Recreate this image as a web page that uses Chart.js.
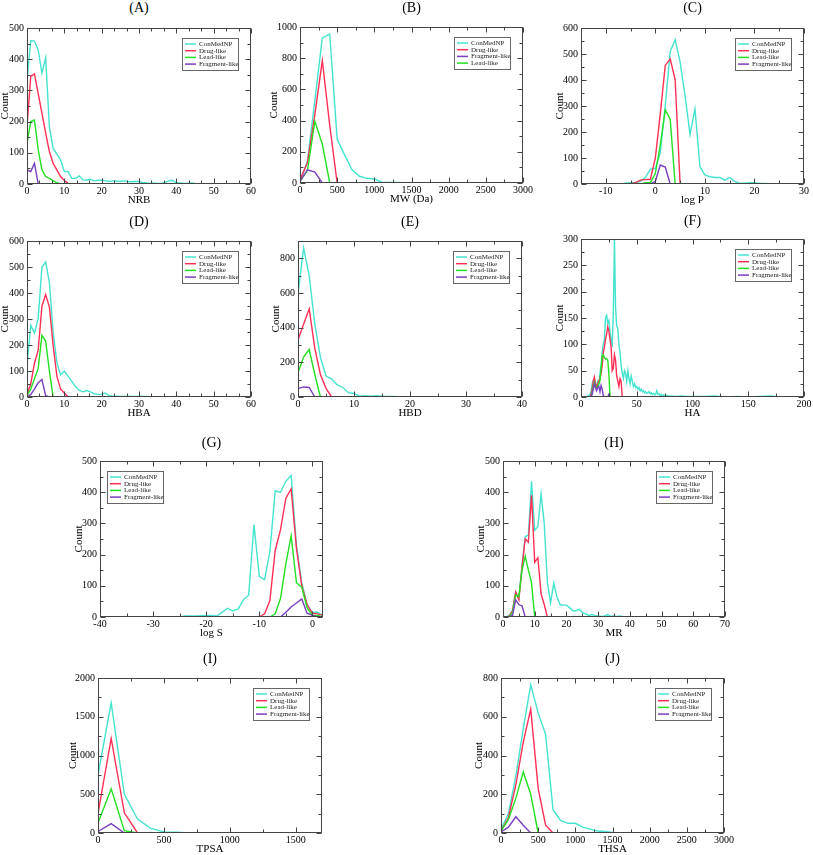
<!DOCTYPE html>
<html lang="en">
<head>
<meta charset="UTF-8">
<title>ConMedNP property distributions</title>
<script src="https://cdn.jsdelivr.net/npm/chart.js"></script>
<style>
  body { margin: 0; background: #fff; width: 813px; height: 855px; position: relative; overflow: hidden; font-family: "Liberation Serif", serif; }
  canvas { position: absolute; }
  .ptitle { position: absolute; font-size: 14px; color: #000; transform: translate(-50%, -50%); white-space: nowrap; }
</style>
</head>
<body>
<script>
// bin positions
function range(a, b, s) { const r = []; for (let v = a; v <= b + 1e-9; v += s) r.push(v); return r; }

const seriesNames = ['ConMedNP', 'Drug-like', 'Lead-like', 'Fragment-like'];
const seriesColors = ['#44e3cf', '#ff2f55', '#22e022', '#7a3fc0'];

// (A) NRB
const aX = range(0, 45, 1);
const aConMed = [330,460,458,430,355,405,182,115,96,77,40,40,18,18,26,13,12,15,10,12,12,10,8,10,9,8,10,8,7,8,8,5,3,2,3,2,2,5,10,12,4,3,2,2,3,2];
const aDrug = [184,345,353,290,227,163,104,66,45,24,11,2,0,0,0,0,0,0,0,0,0,0];
const aLead = [130,200,205,110,45,24,18,11,4,0,0];
const aFrag = [45,40,66,0];
const aTicksX = [0,10,20,30,40,50,60];
const aTicksY = [0,100,200,300,400,500];

// (B) MW (Da)
const bX = range(0, 2400, 100);
const bConMed = [15,140,530,930,955,280,180,85,43,30,26,5,3,3,2,2,1,1,0,0,1,0,0,1,0];
const bDrug = [20,130,440,785,370,0,0];
const bLead = [10,80,395,250,0,0];
const bFrag = [10,85,70,0,0];
const bTicksX = [0,500,1000,1500,2000,2500,3000];
const bTicksY = [0,200,400,600,800,1000];

// (C) log P
const cX = range(-15, 25, 1);
const cConMed = [0,0,0,0,0,0,0,0,0,3,5,5,10,25,57,60,120,300,510,555,470,340,190,288,67,35,28,25,25,15,25,10,3,3,5,5,2,2,1,1,0];
const cDrug = [0,5,15,17,18,100,270,456,481,401,0,0];          // from -5
const cLead = [0,0,0,0,0,0,0,5,5,40,150,285,249,0];              // from -9
const cFrag = [0,10,73,65,0];                                    // from -1
const cTicksX = [-10,0,10,20,30];
const cTicksY = [0,100,200,300,400,500,600];

// (D) HBA
const dX = range(0, 45, 1);
const dConMed = [120,276,246,301,500,519,440,250,132,85,100,80,60,40,25,20,25,20,12,10,10,15,5,3,3,2,2,3,2,2,3,2,2,1,1,1,1,1,1,1,2,1,0,0,0,0];
const dDrug = [10,50,130,180,349,394,346,199,80,30,15,0];
const dLead = [5,30,70,110,237,215,100,0];
const dFrag = [0,10,30,55,67,5,0];
const dTicksX = [0,10,20,30,40,50,60];
const dTicksY = [0,100,200,300,400,500,600];

// (E) HBD
const eX = range(0, 30, 1);
const eConMed = [595,860,700,422,230,121,105,70,55,25,20,5,8,5,8,5,3,3,2,2,1,1,1,1,1,1,1,2,0,0,0];
const eDrug = [330,420,509,280,130,50,0];
const eLead = [140,230,274,130,0];
const eFrag = [48,58,55,0];
const eTicksX = [0,10,20,30,40];
const eTicksY = [0,200,400,600,800];

// (F) HA
const fX = range(0, 80, 1).concat([85,90,95,100,110,120,130,140,150,160,170,180]);
const fConMed = [0,0,0,0,0,0,2,3,5,10,25,32,28,20,22,30,25,45,60,85,100,110,150,155,140,145,125,110,95,160,300,170,135,130,100,85,60,45,35,50,45,30,50,35,25,40,30,20,25,18,20,15,18,12,15,10,12,8,10,7,8,10,6,8,5,7,4,5,12,5,6,3,5,2,4,3,2,3,2,1,2,1,2,1,1,1,2,0,1,0,1,2,0];
const fDrug = [0,5,15,30,38,25,18,25,30,35,45,60,85,95,110,120,133,125,110,95,50,55,80,70,40,30,20,35,30,0];   // from 8
const fLead = [0,8,20,28,20,15,20,25,30,55,78,80,75,72,73,70,45,0];                                            // from 9
const fFrag = [0,5,15,25,18,12,18,20,10,22,15,3,0,0,0,0,5,0];                                                  // from 9
const fTicksX = [0,50,100,150,200];
const fTicksY = [0,50,100,150,200,250,300];

// (G) log S
const gX = range(-40, 2, 1);
const gConMed = [0,0,0,0,0,0,0,0,0,0,0,0,0,0,0,0,3,3,3,4,5,5,3,15,28,20,25,55,70,296,130,120,210,404,400,435,454,230,110,40,15,15,5];
const gDrug = [0,10,53,214,280,380,411,220,100,40,12,10,5];      // from -10
const gLead = [0,10,60,170,260,110,95,30,5,5,0];                 // from -8
const gFrag = [0,15,32,45,58,12,5,0];                            // from -6
const gTicksX = [-40,-30,-20,-10,0];
const gTicksY = [0,100,200,300,400,500];

// (H) MR
const hX = range(0, 40, 1);
const hConMed = [0,0,5,20,80,60,165,258,262,435,278,290,395,300,110,45,108,65,40,38,38,30,20,20,25,15,10,5,8,5,3,2,3,8,2,3,2,3,1,1,0];
const hDrug = [0,0,3,20,80,55,160,250,240,390,175,190,75,40,0];
const hLead = [0,0,0,15,70,65,150,195,150,110,0];
const hFrag = [0,0,0,5,55,40,35,0];
const hTicksX = [0,10,20,30,40,50,60,70];
const hTicksY = [0,100,200,300,400,500];

// (I) TPSA
const iX = range(0, 700, 100);
const iConMed = [750,1680,500,180,60,15,10,0];
const iDrug = [250,1220,260,0,0];
const iLead = [130,570,30,0];
const iFrag = [20,120,0];
const iTicksX = [0,500,1000,1500];
const iTicksY = [0,500,1000,1500,2000];

// (J) THSA
const jX = range(0, 1700, 100);
const jConMed = [20,100,295,540,765,620,509,120,65,50,50,30,20,10,8,3,2,0];
const jDrug = [10,80,250,470,639,230,40,0];
const jLead = [10,70,180,315,200,0];
const jFrag = [5,30,84,40,0];
const jTicksX = [0,500,1000,1500,2000,2500,3000];
const jTicksY = [0,200,400,600,800];

// legend box drawn inside the plot, xmgrace style
const boxLegend = {
  id: 'boxLegend',
  afterDatasetsDraw(chart, args, o) {
    const {ctx, chartArea: a} = chart;
    const w = 56, h = 32, rowH = 6.7;
    const x0 = Math.round(o.side === 'left' ? a.left + 7 : a.right - 13 - w);
    const y0 = Math.round(a.top + 10);
    ctx.save();
    ctx.fillStyle = '#fff';
    ctx.fillRect(x0, y0, w, h);
    ctx.strokeStyle = '#666';
    ctx.lineWidth = 1;
    ctx.strokeRect(x0 + 0.5, y0 + 0.5, w, h);
    ctx.font = '7px "Liberation Serif"';
    ctx.textBaseline = 'middle';
    o.order.forEach((k, i) => {
      const yy = y0 + 6 + i * rowH;
      ctx.strokeStyle = seriesColors[k];
      ctx.lineWidth = 1.5;
      ctx.beginPath(); ctx.moveTo(x0 + 3, yy); ctx.lineTo(x0 + 14, yy); ctx.stroke();
      ctx.fillStyle = '#222';
      ctx.fillText(seriesNames[k], x0 + 17, yy);
    });
    ctx.restore();
  }
};

// frame on all four sides with inward major/minor ticks
const frameTicks = {
  id: 'frameTicks',
  afterDraw(chart, args, o) {
    const {ctx, chartArea: a, scales} = chart;
    ctx.save();
    ctx.strokeStyle = '#444';
    ctx.lineWidth = 1;
    const L = Math.round(a.left) + 0.5, R = Math.round(a.right) - 0.5;
    const T = Math.round(a.top) + 0.5, B = Math.round(a.bottom) - 0.5;
    ctx.strokeRect(L, T, R - L, B - T);
    const mark = (s, v, len) => {
      const p = Math.round(s.getPixelForValue(v)) + 0.5;
      ctx.beginPath();
      if (s.isHorizontal()) {
        ctx.moveTo(p, B); ctx.lineTo(p, B - len);
        ctx.moveTo(p, T); ctx.lineTo(p, T + len);
      } else {
        ctx.moveTo(L, p); ctx.lineTo(L + len, p);
        ctx.moveTo(R, p); ctx.lineTo(R - len, p);
      }
      ctx.stroke();
    };
    [[scales.x, o.xMinor], [scales.y, o.yMinor]].forEach(([s, n]) => {
      const vals = s.ticks.map(t => t.value);
      const step = (vals[1] - vals[0]) / (n + 1);
      let v = vals[0];
      while (v - step >= s.min - 1e-9) v -= step;
      for (; v <= s.max + 1e-9; v += step) {
        const major = vals.some(m => Math.abs(m - v) < step / 10);
        mark(s, v, major ? 5 : 3);
      }
    });
    ctx.restore();
  }
};

function makePanel(p) {
  const YW = 36, PT = 12, PR = 14, XH = 23;
  const [l, t, r, b] = p.rect;
  const W = YW + (r - l) + PR, H = PT + (b - t) + XH;
  const cv = document.createElement('canvas');
  cv.width = W; cv.height = H;
  cv.style.left = (l - YW) + 'px';
  cv.style.top = (t - PT) + 'px';
  cv.style.width = W + 'px';
  cv.style.height = H + 'px';
  document.body.appendChild(cv);

  const ttl = document.createElement('div');
  ttl.className = 'ptitle';
  ttl.textContent = p.title;
  ttl.style.left = ((l + r) / 2) + 'px';
  ttl.style.top = p.titleY + 'px';
  document.body.appendChild(ttl);

  const datasets = p.series.map(s => {
    const off = s.start === undefined ? 0 : s.xs.indexOf(s.start);
    return {
      label: seriesNames[s.k],
      data: s.ys.map((v, i) => ({x: s.xs[i + off], y: v})),
      borderColor: seriesColors[s.k],
      borderWidth: 1.4,
      pointRadius: 0,
      tension: 0,
      order: 4 - s.k
    };
  });

  const plain = v => String(v);

  new Chart(cv, {
    type: 'line',
    data: {datasets},
    plugins: [boxLegend, frameTicks],
    options: {
      responsive: false,
      animation: false,
      layout: {autoPadding: false, padding: {left: 0, top: PT, right: PR, bottom: 0}},
      plugins: {
        legend: {display: false},
        tooltip: {enabled: false},
        boxLegend: {side: p.legendSide || 'right', order: p.legendOrder || [0, 1, 2, 3]},
        frameTicks: {xMinor: p.xMinor || 1, yMinor: 1}
      },
      scales: {
        x: {
          type: 'linear', min: p.xRange[0], max: p.xRange[1],
          grid: {display: false, drawTicks: false}, border: {display: false},
          afterBuildTicks: s => { s.ticks = p.xTicks.map(v => ({value: v})); },
          afterFit: s => { s.height = XH; },
          ticks: {autoSkip: false, maxRotation: 0, padding: 1, color: '#000', callback: plain,
                  font: {family: 'Liberation Serif', size: 10}},
          title: {display: true, text: p.xLabel, color: '#000', padding: 0,
                  font: {family: 'Liberation Serif', size: 11}}
        },
        y: {
          type: 'linear', min: p.yRange[0], max: p.yRange[1],
          grid: {display: false, drawTicks: false}, border: {display: false},
          afterBuildTicks: s => { s.ticks = p.yTicks.map(v => ({value: v})); },
          afterFit: s => { s.width = YW; },
          ticks: {autoSkip: false, padding: 3, color: '#000', callback: plain,
                  font: {family: 'Liberation Serif', size: 10}},
          title: {display: true, text: 'Count', color: '#000',
                  padding: {top: YW - p.countGap - 6.6, bottom: 0},
                  font: {family: 'Liberation Serif', size: 11}}
        }
      }
    }
  });
}

makePanel({title: '(A)', titleY: 8, rect: [27, 28, 251, 184], countGap: 22, xMinor: 2,
  xRange: [0, 60], yRange: [0, 500], xTicks: aTicksX, yTicks: aTicksY, xLabel: 'NRB',
  series: [{xs: aX, ys: aConMed, k: 0}, {xs: aX, ys: aDrug, k: 1}, {xs: aX, ys: aLead, k: 2}, {xs: aX, ys: aFrag, k: 3}]});

makePanel({title: '(B)', titleY: 8, rect: [300, 27, 523, 183], countGap: 26, legendOrder: [0, 1, 3, 2],
  xRange: [0, 3000], yRange: [0, 1000], xTicks: bTicksX, yTicks: bTicksY, xLabel: 'MW (Da)',
  series: [{xs: bX, ys: bConMed, k: 0}, {xs: bX, ys: bDrug, k: 1}, {xs: bX, ys: bLead, k: 2}, {xs: bX, ys: bFrag, k: 3}]});

makePanel({title: '(C)', titleY: 8, rect: [581, 28, 804, 184], countGap: 21,
  xRange: [-15, 30], yRange: [0, 600], xTicks: cTicksX, yTicks: cTicksY, xLabel: 'log P',
  series: [{xs: cX, ys: cConMed, k: 0}, {xs: cX, ys: cDrug, k: 1, start: -5}, {xs: cX, ys: cLead, k: 2, start: -9}, {xs: cX, ys: cFrag, k: 3, start: -1}]});

makePanel({title: '(D)', titleY: 222, rect: [27, 241, 251, 397], countGap: 22, xMinor: 2,
  xRange: [0, 60], yRange: [0, 600], xTicks: dTicksX, yTicks: dTicksY, xLabel: 'HBA',
  series: [{xs: dX, ys: dConMed, k: 0}, {xs: dX, ys: dDrug, k: 1}, {xs: dX, ys: dLead, k: 2}, {xs: dX, ys: dFrag, k: 3}]});

makePanel({title: '(E)', titleY: 222, rect: [298, 241, 522, 397], countGap: 22,
  xRange: [0, 40], yRange: [0, 900], xTicks: eTicksX, yTicks: eTicksY, xLabel: 'HBD',
  series: [{xs: eX, ys: eConMed, k: 0}, {xs: eX, ys: eDrug, k: 1}, {xs: eX, ys: eLead, k: 2}, {xs: eX, ys: eFrag, k: 3}]});

makePanel({title: '(F)', titleY: 221, rect: [581, 239, 804, 397], countGap: 21,
  xRange: [0, 200], yRange: [0, 300], xTicks: fTicksX, yTicks: fTicksY, xLabel: 'HA',
  series: [{xs: fX, ys: fConMed, k: 0}, {xs: fX, ys: fDrug, k: 1, start: 8}, {xs: fX, ys: fLead, k: 2, start: 9}, {xs: fX, ys: fFrag, k: 3, start: 9}]});

makePanel({title: '(G)', titleY: 443, rect: [100, 461, 323, 617], countGap: 21, legendSide: 'left',
  xRange: [-40, 2], yRange: [0, 500], xTicks: gTicksX, yTicks: gTicksY, xLabel: 'log S',
  series: [{xs: gX, ys: gConMed, k: 0}, {xs: gX, ys: gDrug, k: 1, start: -10}, {xs: gX, ys: gLead, k: 2, start: -8}, {xs: gX, ys: gFrag, k: 3, start: -6}]});

makePanel({title: '(H)', titleY: 443, rect: [503, 461, 725, 617], countGap: 22,
  xRange: [0, 70], yRange: [0, 500], xTicks: hTicksX, yTicks: hTicksY, xLabel: 'MR',
  series: [{xs: hX, ys: hConMed, k: 0}, {xs: hX, ys: hDrug, k: 1}, {xs: hX, ys: hLead, k: 2}, {xs: hX, ys: hFrag, k: 3}]});

makePanel({title: '(I)', titleY: 659, rect: [98, 678, 322, 833], countGap: 25,
  xRange: [0, 1700], yRange: [0, 2000], xTicks: iTicksX, yTicks: iTicksY, xLabel: 'TPSA',
  series: [{xs: iX, ys: iConMed, k: 0}, {xs: iX, ys: iDrug, k: 1}, {xs: iX, ys: iLead, k: 2}, {xs: iX, ys: iFrag, k: 3}]});

makePanel({title: '(J)', titleY: 659, rect: [501, 678, 724, 833], countGap: 22,
  xRange: [0, 3000], yRange: [0, 800], xTicks: jTicksX, yTicks: jTicksY, xLabel: 'THSA',
  series: [{xs: jX, ys: jConMed, k: 0}, {xs: jX, ys: jDrug, k: 1}, {xs: jX, ys: jLead, k: 2}, {xs: jX, ys: jFrag, k: 3}]});
</script>
</body>
</html>
